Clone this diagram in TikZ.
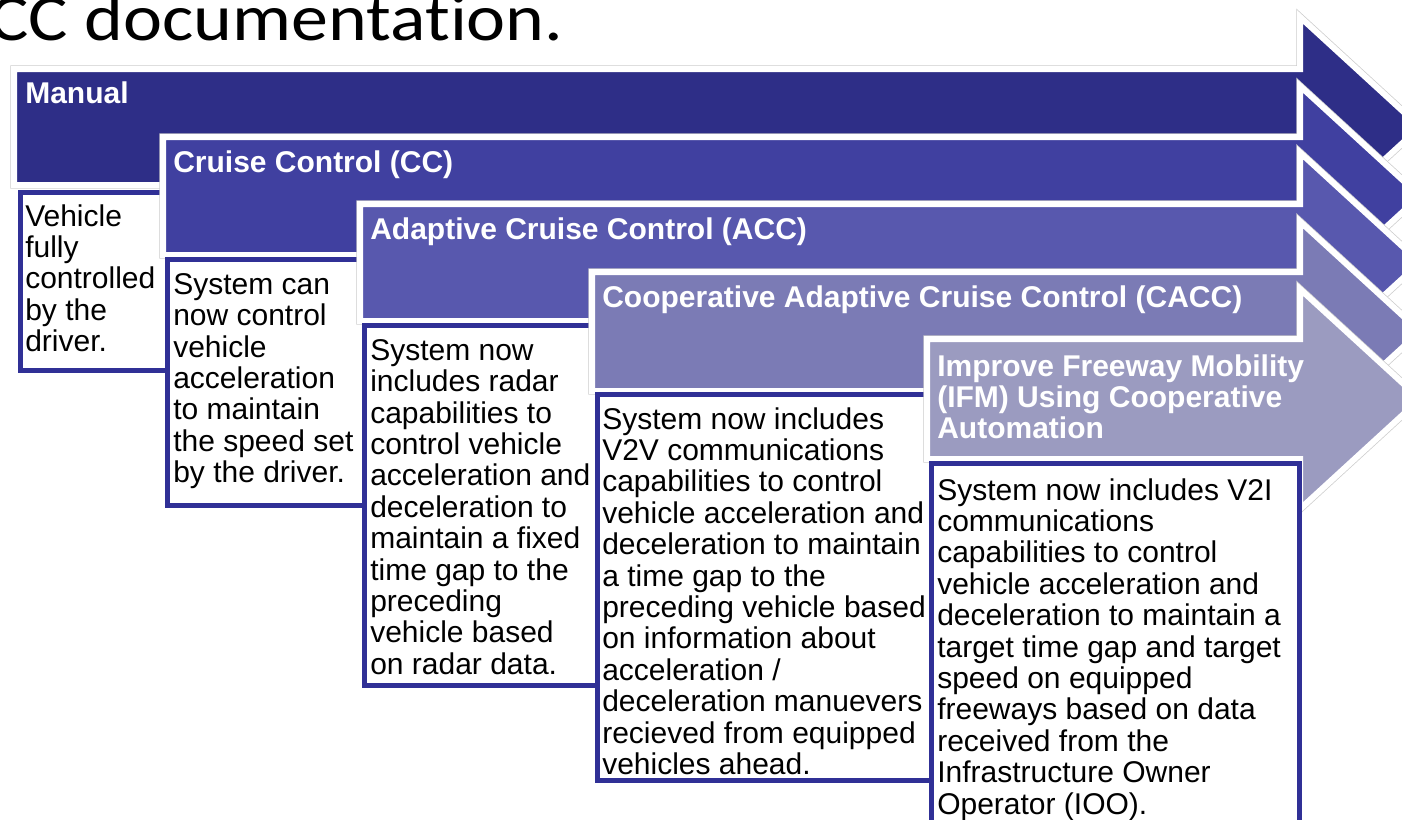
\documentclass[tikz,border=0pt]{standalone}
\usepackage{fontspec}
\setmainfont{Liberation Sans}
\newfontfamily\headingfont[FakeStretch=1.12,Ligatures=NoCommon]{Carlito}

\definecolor{lvManual}{RGB}{46,46,135}
\definecolor{lvCC}{RGB}{64,64,160}
\definecolor{lvACC}{RGB}{88,88,174}
\definecolor{lvCACC}{RGB}{123,123,181}
\definecolor{lvIFM}{RGB}{155,155,192}
\definecolor{boxline}{RGB}{48,48,150}

\begin{document}
\begin{tikzpicture}[x=0.75pt,y=-0.75pt,
  stage/.style={fill=#1, draw=white, line width=4.5pt, line join=miter,
    preaction={draw=black!20, line width=5.6pt}},
  descbox/.style={fill=white, draw=boxline, line width=3.75pt},
  stagetitle/.style={anchor=north west, inner sep=0pt, text=white,
    font=\bfseries\fontsize{22.5pt}{23.25pt}\selectfont, align=left},
  desctext/.style={anchor=north west, inner sep=0pt, text=black,
    font=\fontsize{22.5pt}{23.55pt}\selectfont, align=left},
]
\useasboundingbox (0,0) rectangle (1402,819);
\clip (0,0) rectangle (1402,819);

% heading line (the kern keeps "t" and "i" as separate letters)
\node[anchor=base west, inner sep=0pt,
      font=\headingfont\fontsize{49.5pt}{50pt}\selectfont] (doctitle)
  at (-11,40) {CC documentat\kern0pt ion.};

% stage 1: Manual
\path[stage=lvManual] (14,69) -- (1300,69) -- (1300,17) -- (1420,127)
  -- (1300,237) -- (1300,185) -- (14,185) -- cycle;
\node[stagetitle] (tManual) at (25,81) {Manual};
\draw[descbox] (20,192.5) rectangle (172,370.5);
\node[desctext] (dManual) at (25,204)
  {Vehicle\\fully\\controlled\\by the\\driver.};

% stage 2: Cruise Control
\path[stage=lvCC] (163,137) -- (1300,137) -- (1300,86) -- (1420,196)
  -- (1300,306) -- (1300,255) -- (163,255) -- cycle;
\node[stagetitle] (tCC) at (173,150) {Cruise Control (CC)};
\draw[descbox] (167.5,259.5) rectangle (368,505.5);
\node[desctext] (dCC) at (173,273)
  {System can\\now control\\vehicle\\acceleration\\to maintain\\the speed set\\by the driver.};

% stage 3: Adaptive Cruise Control
\path[stage=lvACC] (360,204) -- (1300,204) -- (1300,152.5) -- (1420,262.5)
  -- (1300,372.5) -- (1300,321) -- (360,321) -- cycle;
\node[stagetitle] (tACC) at (370,217) {Adaptive Cruise Control (ACC)};
\draw[descbox] (364.5,325.5) rectangle (600,685.5);
\node[desctext] (dACC) at (370,339)
  {System now\\includes radar\\capabilities to\\control vehicle\\acceleration and\\deceleration to\\maintain a fixed\\time gap to the\\preceding\\vehicle based\\on radar data.};

% stage 4: Cooperative Adaptive Cruise Control
\path[stage=lvCACC] (592,272) -- (1300,272) -- (1300,221.5) -- (1420,331.5)
  -- (1300,441.5) -- (1300,391) -- (592,391) -- cycle;
\node[stagetitle] (tCACC) at (602,285) {Cooperative Adaptive Cruise Control (CACC)};
\draw[descbox] (597.5,394.5) rectangle (935,780.5);
\node[desctext] (dCACC) at (602,407)
  {System now includes\\V2V communications\\capabilities to control\\vehicle acceleration and\\deceleration to maintain\\a time gap to the\\preceding vehicle based\\on information about\\acceleration /\\deceleration manuevers\\recieved from equipped\\vehicles ahead.};

% stage 5: Improve Freeway Mobility
\path[stage=lvIFM] (927,339) -- (1300,339) -- (1300,289) -- (1420,399)
  -- (1300,509) -- (1300,459) -- (927,459) -- cycle;
\node[stagetitle] (tIFM) at (937,354)
  {Improve Freeway Mobility\\(IFM) Using Cooperative\\Automation};
\draw[descbox] (931.5,463.5) rectangle (1299.5,835);
\node[desctext] (dIFM) at (937,478)
  {System now includes V2I\\communications\\capabilities to control\\vehicle acceleration and\\deceleration to maintain a\\target time gap and target\\speed on equipped\\freeways based on data\\received from the\\Infrastructure Owner\\Operator (IOO).};
\end{tikzpicture}
\end{document}
